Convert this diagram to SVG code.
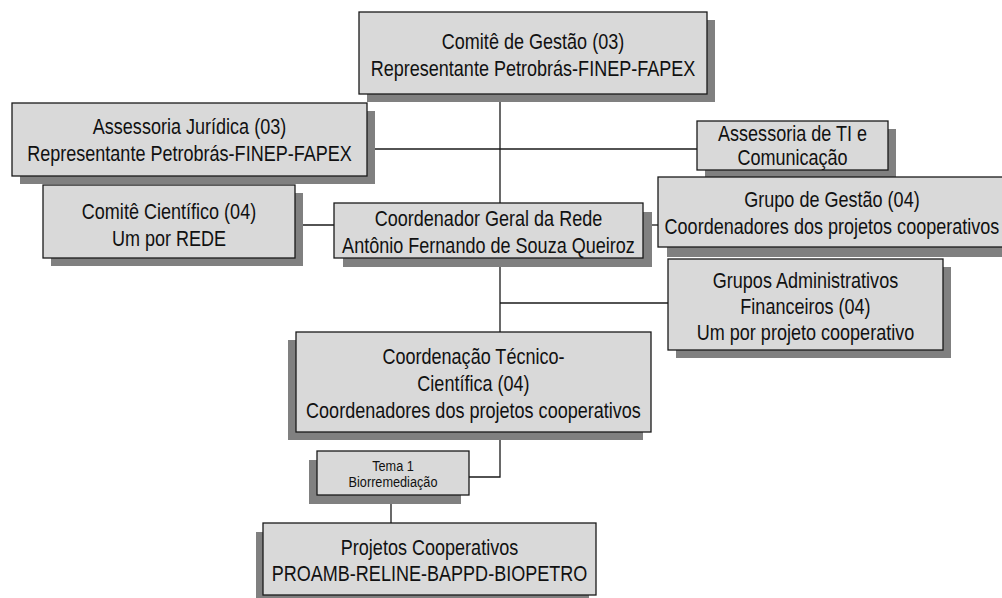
<svg xmlns="http://www.w3.org/2000/svg" width="1002" height="598" viewBox="0 0 1002 598">
<style>
.sh{fill:#808080}
.bx{fill:#d9d9d9;stroke:#1a1a1a;stroke-width:1.3}
.t{font-family:"Liberation Sans",Arial,sans-serif;font-size:22px;fill:#111;text-anchor:middle}
.s{font-size:15.5px}
.ln{stroke:#1a1a1a;stroke-width:1.3;fill:none}
</style>
<rect width="1002" height="598" fill="#fff"/>
<g id="connectors">
<path class="ln" d="M500,94V332"/>
<path class="ln" d="M367,149H697"/>
<path class="ln" d="M295,225H334"/>
<path class="ln" d="M643,225H658"/>
<path class="ln" d="M500,303H668"/>
<path class="ln" d="M500,432V477H469"/>
<path class="ln" d="M391,495V523"/>
</g>
<g id="comite-gestao">
<rect class="sh" x="367" y="20" width="348" height="82"/>
<rect class="bx" x="359" y="12" width="348" height="82"/>
<g transform="scale(0.82 1)">
<text class="t" x="650" y="49">Comitê de Gestão (03)</text>
<text class="t" x="650" y="76">Representante Petrobrás-FINEP-FAPEX</text>
</g>
</g>
<g id="assessoria-juridica">
<rect class="sh" x="20" y="111" width="355" height="73"/>
<rect class="bx" x="12" y="103" width="355" height="73"/>
<g transform="scale(0.82 1)">
<text class="t" x="231.1" y="134">Assessoria Jurídica (03)</text>
<text class="t" x="231.1" y="161">Representante Petrobrás-FINEP-FAPEX</text>
</g>
</g>
<g id="assessoria-ti">
<rect class="sh" x="705" y="129" width="191" height="49"/>
<rect class="bx" x="697" y="121" width="191" height="49"/>
<g transform="scale(0.82 1)">
<text class="t" x="966.5" y="141">Assessoria de TI e</text>
<text class="t" x="966.5" y="165">Comunicação</text>
</g>
</g>
<g id="comite-cientifico">
<rect class="sh" x="51" y="193" width="252" height="73"/>
<rect class="bx" x="43" y="185" width="252" height="73"/>
<g transform="scale(0.82 1)">
<text class="t" x="206.1" y="219">Comitê Científico (04)</text>
<text class="t" x="206.1" y="246">Um por REDE</text>
</g>
</g>
<g id="grupo-gestao">
<rect class="sh" x="667" y="187" width="348" height="70"/>
<rect class="bx" x="658" y="177" width="348" height="70"/>
<g transform="scale(0.82 1)">
<text class="t" x="1014.6" y="207">Grupo de Gestão (04)</text>
<text class="t" x="1014.6" y="234">Coordenadores dos projetos cooperativos</text>
</g>
</g>
<g id="coordenador-geral">
<rect class="sh" x="343" y="212" width="309" height="55"/>
<rect class="bx" x="334" y="203" width="309" height="55"/>
<g transform="scale(0.82 1)">
<text class="t" x="595.7" y="226">Coordenador Geral da Rede</text>
<text class="t" x="595.7" y="253">Antônio Fernando de Souza Queiroz</text>
</g>
</g>
<g id="grupos-administrativos">
<rect class="sh" x="676" y="267" width="275" height="91"/>
<rect class="bx" x="668" y="259" width="275" height="91"/>
<g transform="scale(0.82 1)">
<text class="t" x="982.3" y="288">Grupos Administrativos</text>
<text class="t" x="982.3" y="314">Financeiros (04)</text>
<text class="t" x="982.3" y="340">Um por projeto cooperativo</text>
</g>
</g>
<g id="coordenacao-tecnico-cientifica">
<rect class="sh" x="288" y="340" width="355" height="100"/>
<rect class="bx" x="296" y="332" width="355" height="100"/>
<g transform="scale(0.82 1)">
<text class="t" x="577.4" y="364">Coordenação Técnico-</text>
<text class="t" x="577.4" y="391">Científica (04)</text>
<text class="t" x="577.4" y="418">Coordenadores dos projetos cooperativos</text>
</g>
</g>
<g id="tema-1">
<rect class="sh" x="309" y="460" width="152" height="44"/>
<rect class="bx" x="317" y="451" width="152" height="44"/>
<g transform="scale(0.82 1)">
<text class="t s" x="479.3" y="471">Tema 1</text>
<text class="t s" x="479.3" y="487.5">Biorremediação</text>
</g>
</g>
<g id="projetos-cooperativos">
<rect class="sh" x="256" y="532" width="333" height="72"/>
<rect class="bx" x="263" y="523" width="333" height="72"/>
<g transform="scale(0.82 1)">
<text class="t" x="523.8" y="555">Projetos Cooperativos</text>
<text class="t" x="523.8" y="581">PROAMB-RELINE-BAPPD-BIOPETRO</text>
</g>
</g>
</svg>
